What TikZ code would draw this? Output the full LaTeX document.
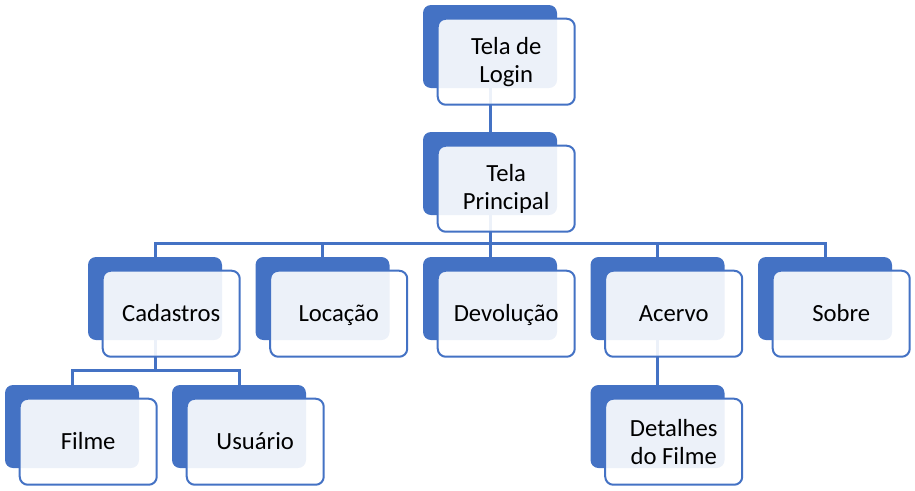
\documentclass[tikz,border=0pt]{standalone}
\usepackage{fontspec}
\setmainfont{Carlito}
\usetikzlibrary{positioning}
\definecolor{azul}{HTML}{4472C4}
\begin{document}
\begin{tikzpicture}[x=0.75pt, y=-0.75pt, line join=miter, font=\fontsize{18.5}{21}\selectfont]
	\tikzset{fundo/.style={fill=azul, rounded corners=6pt, minimum width=100.5pt, minimum height=62.25pt, inner sep=0pt}}
	\tikzset{frente/.style={draw=azul, line width=1.5pt, fill=white, fill opacity=0.9, text opacity=1, rounded corners=6pt, minimum width=102.75pt, minimum height=64.5pt, inner sep=0pt, align=center, text height=15pt, text depth=3pt}}
	\tikzset{duas/.style={text height=, text depth=}}
	\tikzset{liga/.style={draw=azul, line width=2.25pt}}
	\useasboundingbox (0,0) rectangle (915,490);
	% caixas de fundo
	\node[fundo] (bLogin) at (490,46.5) {};
	\node[fundo] (bPrincipal) at (490,173.5) {};
	\node[fundo] (bCadastros) at (155,298.5) {};
	\node[fundo] (bLocacao) at (322.5,298.5) {};
	\node[fundo] (bDevolucao) at (490,298.5) {};
	\node[fundo] (bAcervo) at (657.5,298.5) {};
	\node[fundo] (bSobre) at (825,298.5) {};
	\node[fundo] (bFilme) at (72,426.5) {};
	\node[fundo] (bUsuario) at (239,426.5) {};
	\node[fundo] (bDetalhes) at (657.5,426.5) {};
	% ligacoes
	\coordinate (bus) at (490,243);
	\coordinate (bus2) at (155,370);
	\draw[liga] (bLogin) -- (bPrincipal);
	\draw[liga] (bPrincipal) -- (bus);
	\draw[liga] (bCadastros) |- (bus) -| (bSobre);
	\draw[liga] (bLocacao) -- (bLocacao |- bus);
	\draw[liga] (bDevolucao) -- (bDevolucao |- bus);
	\draw[liga] (bAcervo) -- (bAcervo |- bus);
	\draw[liga] (bCadastros) -- (bus2);
	\draw[liga] (bFilme) |- (bus2) -| (bUsuario);
	\draw[liga] (bAcervo) -- (bDetalhes);
	% caixas da frente
	\node[frente, duas, below right=9.75pt and 10.5pt of bLogin.north west] (login) {Tela de\\Login};
	\node[frente, duas, below right=9.75pt and 10.5pt of bPrincipal.north west] (principal) {Tela\\Principal};
	\node[frente, below right=9.75pt and 10.5pt of bCadastros.north west] (cadastros) {Cadastros};
	\node[frente, below right=9.75pt and 10.5pt of bLocacao.north west] (locacao) {Locação};
	\node[frente, below right=9.75pt and 10.5pt of bDevolucao.north west] (devolucao) {Devolução};
	\node[frente, below right=9.75pt and 10.5pt of bAcervo.north west] (acervo) {Acervo};
	\node[frente, below right=9.75pt and 10.5pt of bSobre.north west] (sobre) {Sobre};
	\node[frente, below right=9.75pt and 10.5pt of bFilme.north west] (filme) {Filme};
	\node[frente, below right=9.75pt and 10.5pt of bUsuario.north west] (usuario) {Usuário};
	\node[frente, duas, below right=9.75pt and 10.5pt of bDetalhes.north west] (detalhes) {Detalhes\\do Filme};
\end{tikzpicture}
\end{document}
